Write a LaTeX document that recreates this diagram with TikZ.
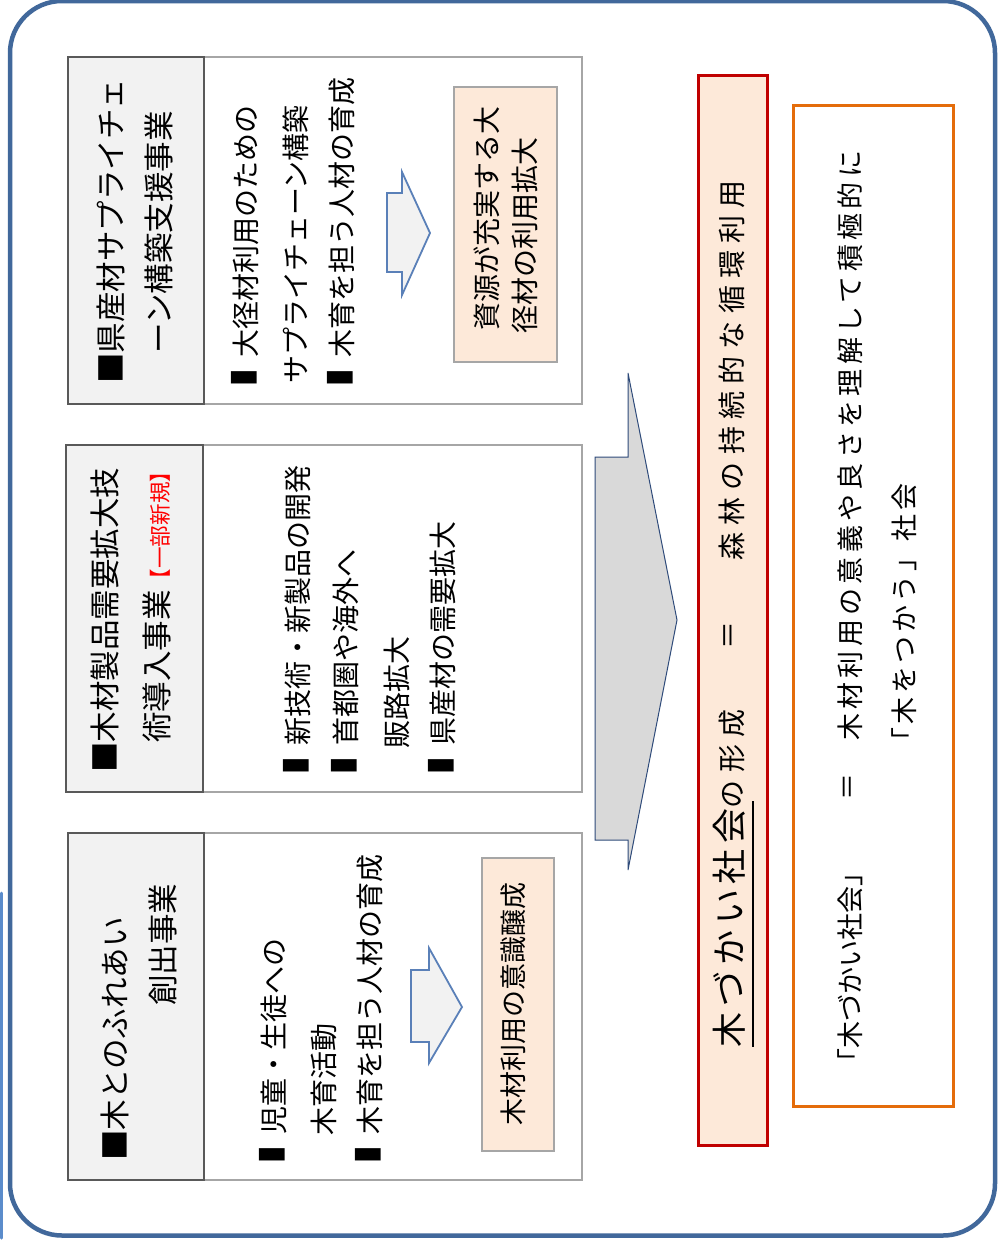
\documentclass[tikz,border=0pt]{standalone}
\usepackage{fontspec}
\setmainfont{Noto Sans CJK JP}
\usepackage{graphicx}
\usepackage{xcolor}
\definecolor{outerblue}{HTML}{41689B}
\definecolor{sideblue}{HTML}{5B8CCB}
\definecolor{hdrfill}{HTML}{F2F2F2}
\definecolor{hdrline}{HTML}{595959}
\definecolor{bodyline}{HTML}{A6A6A6}
\definecolor{peach}{HTML}{FDE9D9}
\definecolor{redline}{HTML}{C00000}
\definecolor{orangeline}{HTML}{E46C0A}
\definecolor{arrowgray}{HTML}{D9D9D9}
\definecolor{arrowline}{HTML}{2F4B7A}
\definecolor{smallarrline}{HTML}{5A80B8}
\newcommand\fsHead{\fontsize{30.5}{32}\selectfont}
\newcommand\fsBody{\fontsize{28}{30}\selectfont}
\newcommand\fsSmall{\fontsize{27}{29}\selectfont}
\newcommand\fsBig{\fontsize{35}{37}\selectfont}
\newcommand\fsRed{\fontsize{21.6}{23}\selectfont}
\newcommand\blkmark{\makebox[1em][l]{\scalebox{0.55}[1.15]{■}}}
\tikzset{
  outerframe/.style={draw=outerblue, line width=4.5pt, rounded corners=52pt},
  sideline/.style={draw=sideblue, line width=3pt, line cap=round},
  hdrbox/.style={fill=hdrfill, draw=hdrline, line width=2.5pt},
  bodybox/.style={fill=white, draw=bodyline, line width=2pt},
  resultbox/.style={fill=peach, draw=bodyline, line width=1.5pt},
  smallarr/.style={fill=hdrfill, draw=smallarrline, line width=1.8pt, line join=miter},
  bigarr/.style={fill=arrowgray, draw=arrowline, line width=1pt},
  redbox/.style={fill=peach, draw=redline, line width=3pt},
  orangebox/.style={fill=white, draw=orangeline, line width=3pt},
  vtxt/.style={rotate=90, anchor=base west, inner sep=0pt, text=black},
  vmid/.style={rotate=90, anchor=center, inner sep=0pt, text=black},
}
\begin{document}
\begin{tikzpicture}[x=1pt,y=-1pt]
\useasboundingbox (0,0) rectangle (997,1248);
\fill[white] (0,0) rectangle (997,1248);
\draw[outerframe] (10,1) rectangle (995,1235.5);
\draw[sideline] (1.4,893) -- (1.4,1238);

% ---- box 1 ----
\draw[bodybox] (204,57) rectangle (582,404);
\draw[hdrbox] (68,57) rectangle (204,404);
\node[vtxt, font=\fsHead] (h1a) at (122.6,384) {■県産材サプライチェ};
\node[vtxt, font=\fsHead] (h1b) at (170.6,354) {ーン構築支援事業};
\node[vtxt, font=\fsBody] (b1a) at (256.6,386) {\blkmark 大径材利用のための};
\node[vtxt, font=\fsBody] (b1b) at (306.6,384) {サプライチェーン構築};
\node[vtxt, font=\fsBody] (b1c) at (352.6,386) {\blkmark 木育を担う人材の育成};
\draw[smallarr] (387,193) -- (402,193) -- (402,172) -- (430,233) -- (402,295) -- (402,272) -- (387,272) -- cycle;
\draw[resultbox] (454,87) rectangle (557,362);
\node[vtxt, font=\fsBody] (r1a) at (497.6,331) {資源が充実する大};
\node[vtxt, font=\fsBody] (r1b) at (535.6,334) {径材の利用拡大};

% ---- box 2 ----
\draw[bodybox] (203,445) rectangle (582,792);
\draw[hdrbox] (66,445) rectangle (203,792);
\node[vtxt, font=\fsHead] (h2a) at (116.6,773) {■木材製品需要拡大技};
\node[vtxt, font=\fsHead] (h2b) at (168.6,743) {術導入事業{\fsRed\color{red}【一部新規】}};
\node[vtxt, font=\fsBody] (b2a) at (308.6,774) {\blkmark 新技術・新製品の開発};
\node[vtxt, font=\fsBody] (b2b) at (356.6,774) {\blkmark 首都圏や海外へ};
\node[vtxt, font=\fsBody] (b2c) at (407.6,749) {販路拡大};
\node[vtxt, font=\fsBody] (b2d) at (453.6,774) {\blkmark 県産材の需要拡大};

% ---- box 3 ----
\draw[bodybox] (204,833) rectangle (582,1180);
\draw[hdrbox] (68,833) rectangle (204,1180);
\node[vtxt, font=\fsHead] (h3a) at (126.6,1161) {■木とのふれあい};
\node[vtxt, font=\fsHead] (h3b) at (174.6,1006) {創出事業};
\node[vtxt, font=\fsBody] (b3a) at (284.6,1163) {\blkmark 児童・生徒への};
\node[vtxt, font=\fsBody] (b3b) at (334.6,1136) {木育活動};
\node[vtxt, font=\fsBody] (b3c) at (380.6,1163) {\blkmark 木育を担う人材の育成};
\draw[smallarr] (411,970) -- (429,970) -- (429,948) -- (462,1007) -- (429,1063) -- (429,1042) -- (411,1042) -- cycle;
\draw[resultbox] (482,858) rectangle (554,1151);
\node[vtxt, font=\fsSmall] (r3a) at (523.3,1126) {木材利用の意識醸成};

% ---- big arrow ----
\draw[bigarr] (595,457) -- (628,457) -- (628,373) -- (677,620) -- (628,870) -- (628,840) -- (595,840) -- cycle;

% ---- red box ----
\draw[redbox] (698,75) rectangle (767,1145);
\node[vtxt] (m1) at (742.3,1048) {{\fsBig\addfontfeatures{LetterSpace=17}木づかい社会}{\fsBody\addfontfeatures{LetterSpace=26}の形成}};
\draw[line width=2pt] (753,801) -- (753,1047);
\node[vmid, font=\fsBody] (m2) at (731,635) {＝};
\node[vtxt, font=\fsBody] (m3) at (742.6,561) {\addfontfeatures{LetterSpace=26}森林の持続的な循環利用};

% ---- orange box ----
\draw[orangebox] (793,105) rectangle (953,1106);
\node[vtxt, font=\fsSmall] (o1) at (860.3,1076) {「木づかい社会」};
\node[vmid, font=\fsSmall] (o2) at (850,787) {＝};
\node[vtxt, font=\fsSmall] (o3) at (860.3,741) {\addfontfeatures{LetterSpace=16}木材利用の意義や良さを理解して積極的に};
\node[vtxt, font=\fsSmall] (o4) at (914.3,755) {\addfontfeatures{LetterSpace=13}「木をつかう」社会};
\end{tikzpicture}
\end{document}
